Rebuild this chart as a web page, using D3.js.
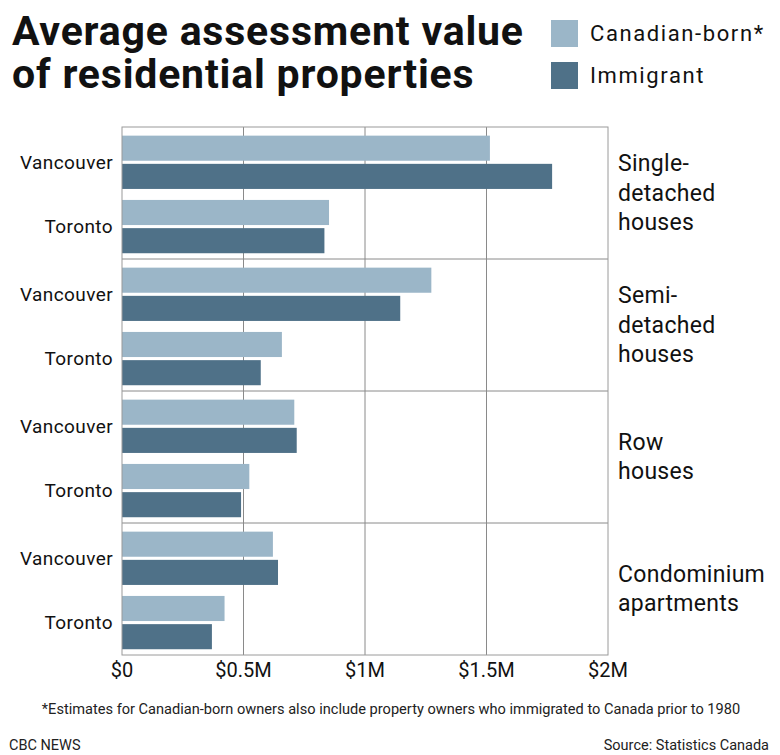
<!DOCTYPE html>
<html>
<head>
<meta charset="utf-8">
<script src="https://cdn.jsdelivr.net/npm/d3@7"></script>
<style>
  body { margin: 0; background: #fff; }
  svg { display: block; font-family: Roboto, "Noto Sans", sans-serif; }
</style>
</head>
<body>
<div id="chart"></div>
<script>
// data (dollars)
const groups = ["Single-detached houses", "Semi-detached houses", "Row houses", "Condominium apartments"];
const groupLines = [["Single-", "detached", "houses"], ["Semi-", "detached", "houses"], ["Row", "houses"], ["Condominium", "apartments"]];
const cities = ["Vancouver", "Toronto"];
const series = ["Canadian-born*", "Immigrant"];
const canadianBorn = [1514000, 852000, 1273000, 658000, 709000, 524000, 621000, 422000];
const immigrant = [1770000, 833000, 1145000, 571000, 719000, 490000, 642000, 370000];
const xTicks = [0, 500000, 1000000, 1500000, 2000000];
const xTickLabels = ["$0", "$0.5M", "$1M", "$1.5M", "$2M"];
const colors = ["#9bb6c8", "#4f7188"];

const W = 780, H = 755;
const plot = { left: 122, right: 608, top: 127, bottom: 655 };

const rows = [];
groups.forEach((g, gi) => cities.forEach((c, ci) => {
  const k = gi * cities.length + ci;
  rows.push({ group: g, city: c, values: [canadianBorn[k], immigrant[k]] });
}));

const svg = d3.select("#chart").append("svg").attr("width", W).attr("height", H);

const x = d3.scaleLinear().domain([0, 2000000]).range([plot.left, plot.right]);
const yGroup = d3.scaleBand().domain(groups).range([plot.top, plot.bottom]);
const yCity = d3.scaleBand().domain(cities).range([0, yGroup.bandwidth()])
  .paddingInner(0.171).paddingOuter(0.112).align(0.6);
const ySeries = d3.scaleBand().domain(series).range([0, yCity.bandwidth()]).paddingInner(0.11);

// title, one text per line
["Average assessment value", "of residential properties"].forEach((t, i) => {
  svg.append("text").attr("x", 12).attr("y", 45 + i * 43).attr("font-weight", 700)
    .attr("font-size", 41).attr("fill", "#111").style("letter-spacing", "0.8px").text(t);
});

// legend
const legend = svg.append("g").selectAll("g").data(series).enter().append("g")
  .attr("transform", (d, i) => `translate(551,${20 + i * 42})`);
legend.append("rect").attr("width", 27).attr("height", 27).attr("fill", (d, i) => colors[i]);
legend.append("text").attr("x", 39).attr("y", 21).attr("font-size", 22)
  .style("letter-spacing", "1.6px").attr("fill", "#111").text(d => d);

// gridlines
svg.append("g").selectAll("line").data(xTicks.slice(1, -1)).enter().append("line")
  .attr("x1", d => x(d)).attr("x2", d => x(d)).attr("y1", plot.top).attr("y2", plot.bottom)
  .attr("stroke", "#8a8a8a").attr("stroke-width", 1);

// group dividers
svg.append("g").selectAll("line").data(groups.slice(1)).enter().append("line")
  .attr("x1", plot.left).attr("x2", plot.right)
  .attr("y1", d => yGroup(d)).attr("y2", d => yGroup(d))
  .attr("stroke", "#8a8a8a").attr("stroke-width", 1);

// bars
const rowG = svg.append("g").selectAll("g").data(rows).enter().append("g")
  .attr("transform", d => `translate(0,${yGroup(d.group) + yCity(d.city)})`);
rowG.selectAll("rect").data(d => d.values.map((v, i) => ({ v, s: series[i], i }))).enter().append("rect")
  .attr("x", x(0)).attr("y", d => ySeries(d.s)).attr("height", ySeries.bandwidth())
  .attr("width", d => x(d.v) - x(0)).attr("fill", d => colors[d.i]);
rowG.append("text").attr("x", 113).attr("y", yCity.bandwidth() / 2)
  .attr("text-anchor", "end").attr("dominant-baseline", "central")
  .attr("font-size", 19).attr("fill", "#111").style("letter-spacing", "0.4px").text(d => d.city);

// plot border
svg.append("rect").attr("x", plot.left).attr("y", plot.top)
  .attr("width", plot.right - plot.left).attr("height", plot.bottom - plot.top)
  .attr("fill", "none").attr("stroke", "#9a9a9a").attr("stroke-width", 1);

// x axis labels
svg.append("g").selectAll("text").data(xTicks).enter().append("text")
  .attr("x", d => x(d)).attr("y", 677).attr("text-anchor", "middle")
  .attr("font-size", 20).attr("fill", "#111").text((d, i) => xTickLabels[i]);

// group labels on the right
const lineH = 29.5;
const gl = svg.append("g").selectAll("text").data(groups).enter().append("text")
  .attr("font-size", 23).attr("fill", "#111").style("letter-spacing", "0.3px");
gl.each(function (d, i) {
  const lines = groupLines[i];
  const cy = yGroup(d) + yGroup.bandwidth() / 2;
  const y0 = cy - (lines.length - 1) * lineH / 2;
  d3.select(this).selectAll("tspan").data(lines).enter().append("tspan")
    .attr("x", 618).attr("y", (t, j) => y0 + j * lineH).attr("dominant-baseline", "central").text(t => t);
});

// notes
svg.append("text").attr("x", 391).attr("y", 714).attr("text-anchor", "middle")
  .attr("font-size", 14.6).attr("fill", "#222")
  .text("*Estimates for Canadian-born owners also include property owners who immigrated to Canada prior to 1980");
svg.append("text").attr("x", 9).attr("y", 750).attr("font-size", 14.5)
  .attr("fill", "#222").text("CBC NEWS");
svg.append("text").attr("x", 769).attr("y", 750).attr("text-anchor", "end").attr("font-size", 14.5)
  .attr("fill", "#222").text("Source: Statistics Canada");
</script>
</body>
</html>
